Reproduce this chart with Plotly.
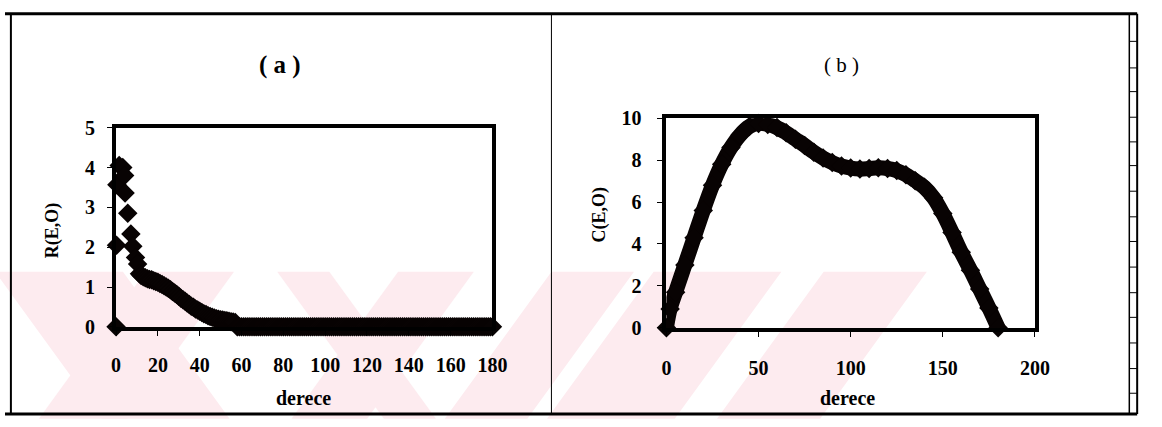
import plotly.graph_objects as go

W, H = 1162, 427

# ---------------- data: panel (a) R(E,O) ----------------
deg_a_head = [0, 0.2, 0.4, 1.5, 3.2, 4.1, 4.3, 5.6, 7.1, 8.0, 9.3, 10.3, 11.2]
r_head = [0.0, 2.05, 3.57, 4.05, 4.0, 3.8, 3.36, 2.85, 2.33, 2.02, 1.74, 1.58, 1.33]
deg_a_body = list(range(12, 181))
r_body = [1.29, 1.26, 1.23, 1.21, 1.19, 1.18, 1.16, 1.14, 1.12, 1.09,   # 12-21
          1.06, 1.03, 1.00, 0.97, 0.93, 0.89, 0.85, 0.81, 0.77, 0.72,   # 22-31
          0.68, 0.64, 0.60, 0.56, 0.52, 0.49, 0.45, 0.42, 0.39, 0.36,   # 32-41
          0.33, 0.31, 0.28, 0.26, 0.24, 0.22, 0.20, 0.19, 0.18, 0.17,   # 42-51
          0.16, 0.15, 0.14, 0.13, 0.12, 0.11]                             # 52-57
r_body += [0.0] * (len(deg_a_body) - len(r_body))                        # 58-180
deg_a = deg_a_head + deg_a_body
r_vals = r_head + r_body

# ---------------- data: panel (b) C(E,O) ----------------
deg_b = [0, 2, 5, 10, 15, 20, 25, 30, 35, 40, 45, 50, 55, 60, 65, 70, 75, 80, 85, 90,
         95, 100, 105, 110, 115, 120, 125, 130, 135, 140, 145, 150, 155, 160, 165,
         170, 175, 180]
c_vals = [0.0, 0.9, 1.7, 3.0, 4.3, 5.6, 6.8, 7.8, 8.6, 9.2, 9.6, 9.75, 9.7, 9.55, 9.3,
          9.0, 8.7, 8.38, 8.1, 7.88, 7.72, 7.62, 7.58, 7.6, 7.63, 7.6, 7.5, 7.3, 7.02,
          6.7, 6.2, 5.45, 4.55, 3.6, 2.75, 1.85, 0.95, 0.0]

xticks_a = list(range(0, 181, 20))
yticks_a = list(range(0, 6, 1))
xticks_b = list(range(0, 201, 50))
yticks_b = list(range(0, 11, 2))


def px(x):
    return x / W


def py(y):
    return 1 - y / H


FONT = "Liberation Serif"
INK = "#080303"

fig = go.Figure()
fig.add_trace(go.Scatter(
    x=deg_a, y=r_vals, mode="markers", xaxis="x", yaxis="y",
    marker=dict(symbol="diamond", size=15, color=INK, line=dict(width=0)),
    cliponaxis=False, showlegend=False, hoverinfo="skip"))
fig.add_trace(go.Scatter(
    x=deg_b, y=c_vals, mode="lines+markers", xaxis="x2", yaxis="y2",
    line=dict(color=INK, width=15, shape="spline"),
    marker=dict(symbol="diamond", size=15, color=INK, line=dict(width=0)),
    cliponaxis=False, showlegend=False, hoverinfo="skip"))

axis_common = dict(showline=True, linewidth=4, linecolor="black", mirror=True,
                   showgrid=False, zeroline=False, ticks="outside", ticklen=5,
                   tickwidth=1, tickcolor="black",
                   tickfont=dict(family=FONT, size=20, color="black", weight="bold"))

fig.update_layout(
    width=W, height=H, margin=dict(l=0, r=0, t=0, b=0),
    paper_bgcolor="white", plot_bgcolor="rgba(0,0,0,0)",
    xaxis=dict(domain=[px(113), px(496)], range=[0, 180], tickvals=xticks_a,
               anchor="y", ticklabelstandoff=12, **axis_common),
    yaxis=dict(domain=[py(333), py(123)], range=[0, 5], tickvals=yticks_a,
               anchor="x", ticklabelstandoff=8, **axis_common),
    xaxis2=dict(domain=[px(673), px(1048)], range=[0, 200], tickvals=xticks_b,
                anchor="y2", ticklabelstandoff=14, **axis_common),
    yaxis2=dict(domain=[py(334), py(113)], range=[0, 10], tickvals=yticks_b,
                anchor="x2", ticklabelstandoff=12, **axis_common),
)

# ---------------- text ----------------
def ann(text, x, y, size, bold=True, angle=0):
    fig.add_annotation(text=f"<b>{text}</b>" if bold else text,
                       x=px(x), y=py(y), xref="paper", yref="paper",
                       showarrow=False, textangle=angle,
                       font=dict(family=FONT, size=size, color="black"),
                       xanchor="center", yanchor="middle")

ann("( a )", 280, 57, 25)
ann("( b )", 851, 57, 21, bold=False)
ann("R(E,O)", 48, 231, 18, angle=-90)
ann("C(E,O)", 605, 215, 18, angle=-90)
ann("derece", 304, 408, 20)
ann("derece", 857, 408, 20)

# ---------------- page frame, ruler, watermark ----------------
shapes = []
pink = "#fdebef"
top_y, bot_y, slope = 275, 430, 0.7
stripes = [(-10, 120, 1), (143, 233, -1), (277, 330, 1), (400, 477, -1),
           (556, 640, -1), (660, 790, -1), (833, 938, -1)]
for x0, x1, d in stripes:
    dx = slope * (bot_y - top_y) * d
    path = (f"M {px(x0)} {py(top_y)} L {px(x1)} {py(top_y)} "
            f"L {px(x1 + dx)} {py(bot_y)} L {px(x0 + dx)} {py(bot_y)} Z")
    shapes.append(dict(type="path", xref="paper", yref="paper", path=path,
                       fillcolor=pink, line=dict(width=0), layer="below"))

def seg(x0, y0, x1, y1, w, c="black"):
    shapes.append(dict(type="line", xref="paper", yref="paper",
                       x0=px(x0), y0=py(y0), x1=px(x1), y1=py(y1),
                       line=dict(color=c, width=w), layer="above"))

seg(0, 3, 1152, 3, 3)
seg(0, 425, 1152, 425, 3)
seg(6, 3, 6, 425, 2)
seg(556, 3, 556, 425, 1)
seg(1144, 3, 1144, 425, 1.5)
seg(1152, 3, 1152, 425, 2)
ruler = [32, 60, 85, 112, 138, 163, 190, 217, 243, 270, 297, 323, 350, 377, 403]
for yy in ruler:
    seg(1144, yy, 1152, yy, 1)

fig.update_layout(shapes=shapes)

fig.write_html(
    "out.html",
    config={"displayModeBar": False, "responsive": False},
    post_script=(
        "document.documentElement.style.overflow='hidden';"
        "document.body.style.margin='0';document.body.style.overflow='hidden';"
        "var d=document.getElementsByClassName('plotly-graph-div')[0];"
        "d.style.position='fixed';d.style.left='0px';d.style.top='0px';"
    ),
)
